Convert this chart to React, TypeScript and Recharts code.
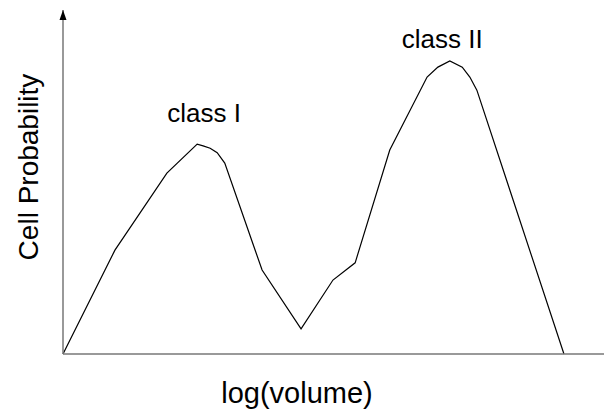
import React from 'react';
import { LineChart, Line, XAxis, YAxis, ReferenceDot, Label } from 'recharts';

// log(volume) positions (arbitrary units) and cell probability
const volume = [0, 0.96, 1.92, 2.48, 2.59, 2.72, 2.85, 2.99, 3.68, 4.4, 4.99, 5.4, 6.04, 6.73, 6.93, 7.15, 7.38, 7.52, 7.65, 9.26];
const probability = [0, 0.302, 0.526, 0.61, 0.605, 0.598, 0.585, 0.555, 0.244, 0.073, 0.215, 0.265, 0.593, 0.805, 0.834, 0.852, 0.834, 0.805, 0.767, 0];

// peak annotations
const peakNames = ['class I', 'class II'];
const peakX = [2.61, 7.01];
const peakY = [0.674, 0.89];

const X_MAX = 10;
const Y_MAX = 1;

const FONT = '"Liberation Sans", Arial, sans-serif';
const AXIS_COLOR = '#777777';

const data = volume.map((v, i) => ({ v, p: probability[i] }));

// arrowhead on top of the y axis
const ArrowHead = (props: any) => {
    const { cx, cy } = props;
    return <path d={`M${cx},${cy} L${cx - 3.5},${cy + 10} L${cx + 3.5},${cy + 10} Z`} fill="#000" />;
};

const PeakText = (name: string) => (props: any) => (
    <text x={props.cx} y={props.cy} textAnchor="middle" fontFamily={FONT} fontSize={26} fill="#000">
        {name}
    </text>
);

export default function App() {
    return (
        <div style={{ position: 'absolute', left: 0, top: 0, background: '#fff' }}>
            <LineChart width={605} height={415} data={data} margin={{ top: 10, right: 1, left: 0, bottom: 0 }}>
                <XAxis
                    dataKey="v"
                    type="number"
                    domain={[0, X_MAX]}
                    tick={false}
                    tickLine={false}
                    height={61}
                    axisLine={{ stroke: AXIS_COLOR, strokeWidth: 1.5 }}
                >
                    <Label
                        content={({ viewBox }: any) => (
                            <text x={viewBox.x + 234} y={viewBox.y + 49} textAnchor="middle" fontFamily={FONT} fontSize={29} fill="#000">
                                log(volume)
                            </text>
                        )}
                    />
                </XAxis>
                <YAxis
                    type="number"
                    domain={[0, Y_MAX]}
                    tick={false}
                    tickLine={false}
                    width={63}
                    axisLine={{ stroke: AXIS_COLOR, strokeWidth: 1.5 }}
                >
                    <Label
                        content={({ viewBox }: any) => (
                            <text
                                x={38}
                                y={viewBox.y + 157}
                                transform={`rotate(-90, 38, ${viewBox.y + 157})`}
                                textAnchor="middle"
                                fontFamily={FONT}
                                fontSize={28}
                                fill="#000"
                            >
                                Cell Probability
                            </text>
                        )}
                    />
                </YAxis>
                <Line
                    type="linear"
                    dataKey="p"
                    stroke="#000"
                    strokeWidth={1.2}
                    dot={false}
                    activeDot={false}
                    isAnimationActive={false}
                />
                <ReferenceDot x={0} y={Y_MAX} ifOverflow="visible" shape={ArrowHead} />
                {peakNames.map((name, i) => (
                    <ReferenceDot key={name} x={peakX[i]} y={peakY[i]} ifOverflow="visible" shape={PeakText(name)} />
                ))}
            </LineChart>
        </div>
    );
}
